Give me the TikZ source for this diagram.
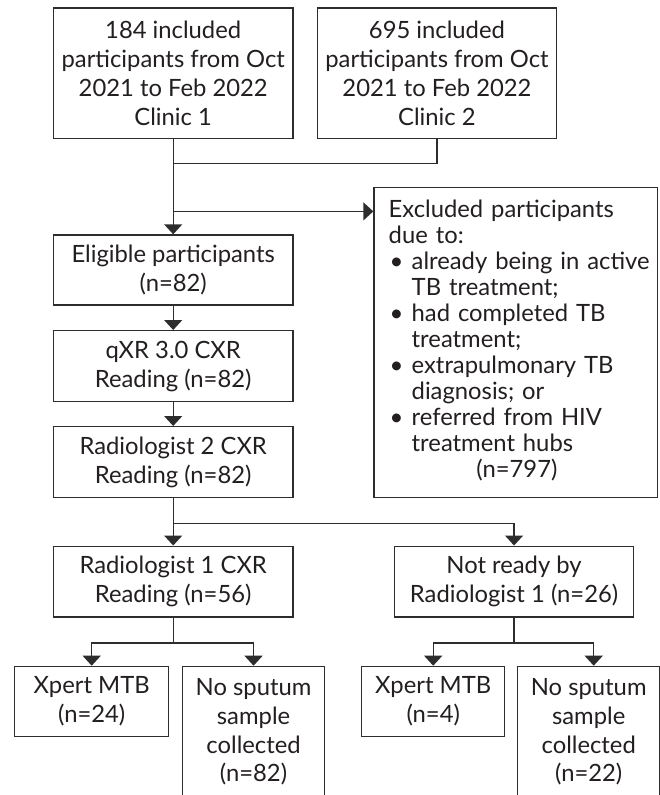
\documentclass[tikz,border=0pt]{standalone}
\usepackage{fontspec}
\setmainfont{Lato}
\usetikzlibrary{arrows.meta}
\definecolor{ink}{RGB}{35,31,32}
\definecolor{edge}{RGB}{45,45,45}
\begin{document}
\begin{tikzpicture}[x=1pt,y=-1pt,
  box/.style={draw=edge, line width=1.4pt, text=ink, align=center, inner sep=0pt,
    font=\fontsize{23.8}{28.7}\selectfont, anchor=north west},
  ln/.style={draw=edge, line width=1.4pt},
  arr/.style={ln, -{Triangle[width=18pt,length=10pt]}}]
\fill[white] (0,0) rectangle (660,795);
\useasboundingbox (0,0) rectangle (660,795);

\node[box, minimum width=239.6pt, minimum height=130.7pt] (a) at (52.7,7.3)
  {184 included\\participants from Oct\\2021 to Feb 2022\\Clinic 1};
\node[box, minimum width=238.5pt, minimum height=130.7pt] (b) at (317,7.3)
  {695 included\\participants from Oct\\2021 to Feb 2022\\Clinic 2};
\node[box, minimum width=239.6pt, minimum height=70pt] (elig) at (52.7,234.3)
  {Eligible participants\\(n=82)};
\node[box, minimum width=239.6pt, minimum height=71pt] (qxr) at (52.7,330)
  {qXR 3.0 CXR\\Reading (n=82)};
\node[box, minimum width=239.6pt, minimum height=71pt] (rad2) at (52.7,426)
  {Radiologist 2 CXR\\Reading (n=82)};
\node[box, minimum width=239.6pt, minimum height=70.8pt] (rad1) at (52.7,545.5)
  {Radiologist 1 CXR\\Reading (n=56)};
\node[box, minimum width=238.7pt, minimum height=70.8pt] (nr) at (394,545.5)
  {Not ready by\\Radiologist 1 (n=26)};
\node[box, minimum width=154pt, minimum height=70.3pt] (x1) at (14,665.7)
  {Xpert MTB\\(n=24)};
\node[box, minimum width=142.3pt, minimum height=131pt] (ns1) at (181.7,665.7)
  {No sputum\\sample\\collected\\(n=82)};
\node[box, minimum width=143pt, minimum height=70.3pt] (x2) at (361,665.7)
  {Xpert MTB\\(n=4)};
\node[box, minimum width=142pt, minimum height=131pt] (ns2) at (517,665.7)
  {No sputum\\sample\\collected\\(n=22)};

\node[box, align=left, inner xsep=14.7pt, inner ysep=0pt, text width=253.8pt,
  minimum width=283.2pt, minimum height=310pt,
  font=\fontsize{23.8}{26}\selectfont] (excl) at (373.3,186.7)
  {\begin{tabular}{@{}p{23pt}@{}l@{}}
   \multicolumn{2}{@{}l@{}}{Excluded participants}\\
   \multicolumn{2}{@{}l@{}}{due to:}\\
   \hspace{1pt}\textbullet & already being in active\\
   & TB treatment;\\
   \hspace{1pt}\textbullet & had completed TB\\
   & treatment;\\
   \hspace{1pt}\textbullet & extrapulmonary TB\\
   & diagnosis; or\\
   \hspace{1pt}\textbullet & referred from HIV\\
   & treatment hubs\\
   \multicolumn{2}{@{}l@{}}{\hspace{87.7pt}(n=797)}
   \end{tabular}};

% connectors
\draw[arr] (a.south) -- (elig.north);
\draw[ln] (b.south) -- ++(0,24) coordinate (j1) -- (j1 -| a.south);
\path (a.south) ++(0,72) coordinate (j2);
\draw[arr] (j2) -- (j2 -| excl.west);
\draw[arr] (elig.south) -- (qxr.north);
\draw[arr] (qxr.south) -- (rad2.north);
\draw[arr] (rad2.south) -- (rad1.north);
\path (rad2.south) ++(0,25.3) coordinate (j3);
\draw[arr] (j3) -| (nr.north);
\draw[ln] (rad1.south) -- ++(0,25.4) coordinate (j4);
\draw[arr] (j4) -| (x1.north);
\draw[arr] (j4) -| (ns1.north);
\draw[ln] (nr.south) -- ++(0,25.4) coordinate (j5);
\draw[arr] (j5) -| (x2.north);
\draw[arr] (j5) -| ([xshift=5pt]ns2.north);
\end{tikzpicture}
\end{document}
